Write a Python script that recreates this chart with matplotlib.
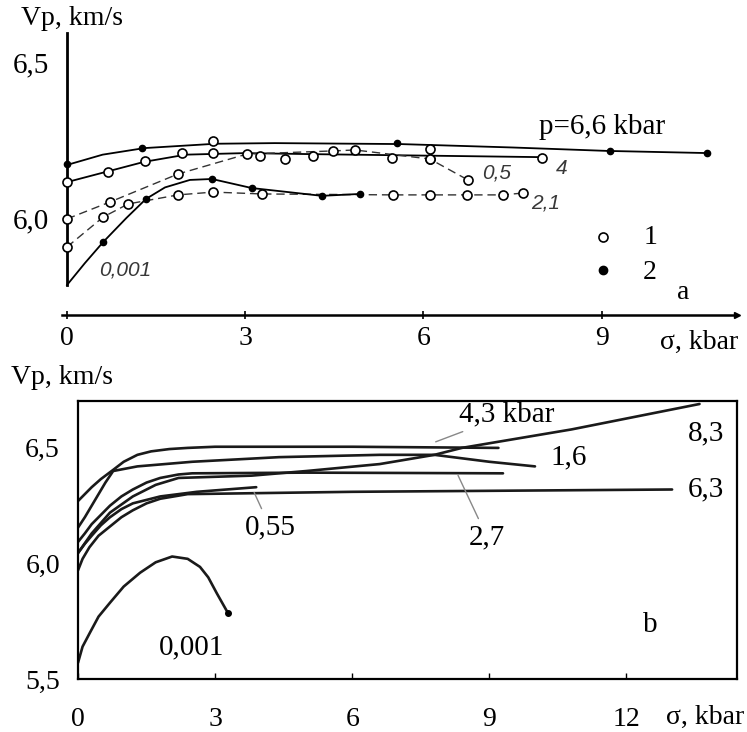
import matplotlib
matplotlib.use("Agg")
import matplotlib.pyplot as plt

plt.rcParams['font.family'] = ['Liberation Serif', 'DejaVu Serif']

# ---------------- panel a : Vp vs sigma, points 1 (open) / 2 (filled) ----------------
# p = 6,6 kbar, solid line, filled points
a66_line_sig = [0, 0.6, 1.3, 2.5, 3.5, 5.6, 7.5, 9.1, 10.8]
a66_line_v = [6.170, 6.203, 6.224, 6.238, 6.240, 6.237, 6.226, 6.215, 6.208]
a66_pt_sig = [0, 1.26, 5.56, 9.14, 10.77]
a66_pt_v = [6.172, 6.224, 6.240, 6.215, 6.208]

# p = 4, solid line, open points
a4_line_sig = [0, 0.7, 1.3, 2.0, 3.0, 4.0, 6.0, 8.0]
a4_line_v = [6.115, 6.150, 6.180, 6.203, 6.208, 6.205, 6.200, 6.195]
a4_pt_sig = [0, 0.69, 1.31, 1.94, 2.46, 3.25, 3.67, 4.14, 5.47, 6.11, 8.0]
a4_pt_v = [6.115, 6.147, 6.183, 6.208, 6.208, 6.199, 6.189, 6.199, 6.192, 6.189, 6.192]

# p = 0,5, dashed, open points
a05_sig = [0, 0.72, 1.87, 3.03, 4.48, 4.85, 6.11, 6.75]
a05_v = [5.997, 6.051, 6.141, 6.205, 6.215, 6.218, 6.189, 6.122]

# p = 2,1, dashed, open points
a21_sig = [0, 0.61, 1.03, 1.87, 2.46, 3.28, 5.49, 6.11, 6.73, 7.34, 7.68]
a21_v = [5.907, 6.003, 6.045, 6.074, 6.083, 6.077, 6.074, 6.074, 6.074, 6.074, 6.080]

# p = 0,001, solid, filled points
a001_line_sig = [0, 0.3, 0.61, 1.0, 1.33, 1.65, 2.07, 2.44, 3.11, 4.29, 4.93]
a001_line_v = [5.785, 5.855, 5.923, 6.000, 6.061, 6.098, 6.122, 6.125, 6.096, 6.071, 6.077]
a001_pt_sig = [0.61, 1.33, 2.44, 3.11, 4.29, 4.93]
a001_pt_v = [5.923, 6.061, 6.125, 6.096, 6.071, 6.077]

# loose open points
a_extra_sig = [2.46, 6.11]
a_extra_v = [6.247, 6.221]

a_xticks = [0, 3, 6, 9]
a_xticklabels = ['0', '3', '6', '9']
a_yticks = [6.0, 6.5]
a_yticklabels = ['6,0', '6,5']

# ---------------- panel b : Vp vs sigma for several p ----------------
b001_sig = [0, 0.1, 0.26, 0.45, 0.7, 1.0, 1.36, 1.7, 2.06, 2.4, 2.67, 2.85, 3.04, 3.28]
b001_v = [5.57, 5.64, 5.70, 5.77, 5.83, 5.90, 5.96, 6.005, 6.03, 6.02, 5.985, 5.94, 5.87, 5.786]

b43_sig = [0, 0.15, 0.3, 0.5, 0.77, 1.0, 1.3, 1.6, 2.0, 2.4, 3.0, 4.0, 6.0, 9.2]
b43_v = [6.27, 6.30, 6.33, 6.365, 6.405, 6.44, 6.47, 6.485, 6.495, 6.50, 6.505, 6.505, 6.505, 6.50]

b16_sig = [0, 0.15, 0.3, 0.45, 0.6, 0.77, 1.3, 2.5, 4.4, 6.6, 7.8, 9.0, 10.0]
b16_v = [6.155, 6.20, 6.25, 6.30, 6.35, 6.40, 6.42, 6.44, 6.46, 6.47, 6.47, 6.44, 6.42]

b27_sig = [0, 0.15, 0.3, 0.5, 0.7, 0.95, 1.2, 1.5, 1.8, 2.2, 2.5, 5.0, 9.3]
b27_v = [6.093, 6.13, 6.17, 6.21, 6.25, 6.29, 6.32, 6.35, 6.37, 6.385, 6.39, 6.393, 6.39]

b83_sig = [0, 0.3, 0.7, 1.2, 1.7, 2.2, 3.8, 5.0, 6.6, 7.8, 8.4, 10.8, 13.6]
b83_v = [6.045, 6.13, 6.22, 6.29, 6.34, 6.37, 6.38, 6.40, 6.43, 6.47, 6.50, 6.58, 6.69]

b055_sig = [0, 0.15, 0.3, 0.5, 0.7, 0.95, 1.2, 1.8, 2.6, 3.9]
b055_v = [6.045, 6.085, 6.12, 6.165, 6.20, 6.235, 6.26, 6.29, 6.31, 6.33]

b63_sig = [0, 0.1, 0.25, 0.45, 0.7, 0.95, 1.2, 1.5, 1.8, 2.4, 6.0, 13.0]
b63_v = [5.97, 6.02, 6.07, 6.12, 6.16, 6.20, 6.23, 6.26, 6.28, 6.30, 6.31, 6.32]

b_xticks = [0, 3, 6, 9, 12]
b_xticklabels = ['0', '3', '6', '9', '12']
b_yticks = [5.5, 6.0, 6.5]
b_yticklabels = ['5,5', '6,0', '6,5']

fig = plt.figure(figsize=(7.47, 7.32), dpi=100)
axa = fig.add_axes([0.0830, 0.5697, 0.9036, 0.3852])
axb = fig.add_axes([0.1044, 0.0724, 0.8822, 0.3798])

# ---- panel a ----
open_kw = dict(linestyle='none', marker='o', ms=6.5, mfc='white', mec='black', mew=1.2, zorder=4)
fill_kw = dict(linestyle='none', marker='o', ms=4.5, mfc='black', mec='black', zorder=4)
dash = (0, (6, 3.5))

axa.plot(a66_line_sig, a66_line_v, color='black', lw=1.3)
axa.plot(a66_pt_sig, a66_pt_v, **fill_kw)
axa.plot(a4_line_sig, a4_line_v, color='black', lw=1.3)
axa.plot(a4_pt_sig, a4_pt_v, **open_kw)
axa.plot(a05_sig, a05_v, color='#333333', lw=1.0, linestyle=dash)
axa.plot(a05_sig, a05_v, **open_kw)
axa.plot(a21_sig, a21_v, color='#333333', lw=1.0, linestyle=dash)
axa.plot(a21_sig, a21_v, **open_kw)
axa.plot(a001_line_sig, a001_line_v, color='black', lw=1.3)
axa.plot(a001_pt_sig, a001_pt_v, **fill_kw)
axa.plot(a_extra_sig, a_extra_v, **open_kw)

axa.set_xlim(-0.084, 11.28)
axa.set_ylim(5.689, 6.593)
for s in ['top', 'right']:
    axa.spines[s].set_visible(False)
axa.spines['left'].set_position(('data', 0))
axa.spines['left'].set_bounds(5.785, 6.593)
axa.spines['left'].set_linewidth(2.0)
axa.spines['bottom'].set_linewidth(1.8)
axa.plot(1, 5.689, marker='>', color='black', ms=5, transform=axa.get_yaxis_transform(), clip_on=False)

axa.set_xticks(a_xticks)
axa.set_xticklabels(a_xticklabels)
axa.set_yticks(a_yticks)
axa.set_yticklabels(a_yticklabels)
axa.tick_params(axis='x', direction='inout', length=6, width=1.2, pad=5, labelsize=20)
axa.tick_params(axis='y', length=0, pad=13, labelsize=21)

axa.text(0.084, 6.641, 'Vp, km/s', fontsize=20, ha='center', va='center', clip_on=False)
axa.text(10.64, 5.60, 'σ, kbar', fontsize=20, ha='center', va='center', clip_on=False)
axa.text(9.01, 6.292, 'p=6,6 kbar', fontsize=21, ha='center', va='center')
axa.plot([9.02], [5.939], **open_kw)
axa.text(9.83, 5.939, '1', fontsize=20, ha='center', va='center')
axa.plot([9.02], [5.833], linestyle='none', marker='o', ms=6, color='black')
axa.text(9.81, 5.824, '2', fontsize=20, ha='center', va='center')
axa.text(10.37, 5.760, 'a', fontsize=20, ha='center', va='center')

lab_kw = dict(fontsize=15, style='italic', family=['Liberation Sans', 'DejaVu Sans'],
              color='#383838', ha='center', va='center')
axa.text(0.98, 5.833, '0,001', **lab_kw)
axa.text(7.24, 6.144, '0,5', **lab_kw)
axa.text(8.33, 6.160, '4', **lab_kw)
axa.text(8.05, 6.048, '2,1', **lab_kw)

# ---- panel b ----
line_kw = dict(color='#1a1a1a', lw=1.9, solid_capstyle='round', solid_joinstyle='round')
axb.plot(b001_sig, b001_v, **line_kw)
axb.plot(b001_sig[-1:], b001_v[-1:], linestyle='none', marker='o', ms=4, color='black')
axb.plot(b43_sig, b43_v, **line_kw)
axb.plot(b16_sig, b16_v, **line_kw)
axb.plot(b27_sig, b27_v, **line_kw)
axb.plot(b83_sig, b83_v, **line_kw)
axb.plot(b055_sig, b055_v, **line_kw)
axb.plot(b63_sig, b63_v, **line_kw)

axb.set_xlim(0, 14.42)
axb.set_ylim(5.5, 6.703)
for s in axb.spines.values():
    s.set_linewidth(1.6)
axb.set_xticks(b_xticks)
axb.set_xticklabels(b_xticklabels)
axb.set_yticks(b_yticks)
axb.set_yticklabels(b_yticklabels)
axb.tick_params(axis='x', direction='in', length=4, width=1, pad=20, labelsize=20)
axb.tick_params(axis='y', length=0, pad=13, labelsize=20)

axb.text(-0.35, 6.803, 'Vp, km/s', fontsize=20, ha='center', va='center', clip_on=False)
axb.text(13.72, 5.335, 'σ, kbar', fontsize=20, ha='center', va='center', clip_on=False)

ann_kw = dict(fontsize=21, ha='center', va='center')
leader = dict(arrowstyle='-', color='#888888', lw=1.0)
axb.annotate('4,3 kbar', xy=(7.77, 6.522), xytext=(9.39, 6.643), arrowprops=leader, **ann_kw)
axb.annotate('2,7', xy=(8.29, 6.392), xytext=(8.95, 6.115), arrowprops=leader, **ann_kw)
axb.annotate('0,55', xy=(3.83, 6.318), xytext=(4.20, 6.158), arrowprops=leader, **ann_kw)
axb.text(13.74, 6.565, '8,3', **ann_kw)
axb.text(10.74, 6.457, '1,6', **ann_kw)
axb.text(13.74, 6.322, '6,3', **ann_kw)
axb.text(2.49, 5.639, '0,001', **ann_kw)
axb.text(12.52, 5.734, 'b', **ann_kw)

fig.savefig('out.png', dpi=100)
